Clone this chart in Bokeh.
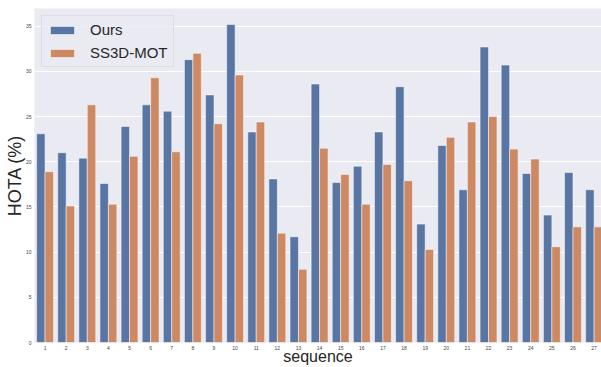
from bokeh.plotting import figure
from bokeh.models import FixedTicker, Range1d, ColumnDataSource
from bokeh.transform import dodge
from bokeh.embed import file_html
from bokeh.resources import INLINE

sequences = list(range(1, 28))
ours = [23.1, 21.0, 20.4, 17.6, 23.9, 26.3, 25.6, 31.3, 27.4, 35.2, 23.3, 18.1, 11.7, 28.6,
        17.7, 19.5, 23.3, 28.3, 13.1, 21.8, 16.9, 32.7, 30.7, 18.7, 14.1, 18.8, 16.9]
ss3d = [18.9, 15.1, 26.3, 15.3, 20.6, 29.3, 21.1, 32.0, 24.2, 29.6, 24.4, 12.1, 8.1, 21.5,
        18.6, 15.3, 19.7, 17.9, 10.3, 22.7, 24.4, 25.0, 21.4, 20.3, 10.6, 12.8, 12.8]
y_ticks = [0, 5, 10, 15, 20, 25, 30, 35]

src = ColumnDataSource(dict(seq=sequences, ours=ours, ss3d=ss3d))

FONT = "Liberation Sans"
p = figure(width=601, height=367, output_backend="svg", toolbar_location=None,
           x_range=Range1d(0.5, 27.35), y_range=Range1d(0, 36.96),
           min_border_left=34, min_border_right=0, min_border_top=8, min_border_bottom=25)

p.background_fill_color = "#eaeaf2"
p.border_fill_color = "white"
p.outline_line_color = None

p.vbar(x=dodge("seq", -0.2), top="ours", width=0.4, source=src,
       fill_color="#5975a4", line_color="white", line_alpha=0.5, line_width=1,
       legend_label="Ours")
p.vbar(x=dodge("seq", 0.2), top="ss3d", width=0.4, source=src,
       fill_color="#cc8963", line_color="white", line_alpha=0.5, line_width=1,
       legend_label="SS3D-MOT")

p.xgrid.visible = False
p.ygrid.grid_line_color = "white"
p.ygrid.grid_line_width = 1
p.ygrid.ticker = FixedTicker(ticks=y_ticks)

for ax in (p.xaxis[0], p.yaxis[0]):
    ax.axis_line_color = None
    ax.major_tick_line_color = None
    ax.minor_tick_line_color = None
    ax.major_tick_out = 0
    ax.major_tick_in = 0
    ax.major_label_text_font = FONT
    ax.major_label_text_color = "#444444"
    ax.axis_label_text_font = FONT
    ax.axis_label_text_font_style = "normal"
    ax.axis_label_text_color = "#262626"

p.xaxis.ticker = FixedTicker(ticks=sequences)
p.xaxis.major_label_text_font_size = "5px"
p.xaxis.major_label_standoff = 3
p.xaxis.axis_label_standoff = -5
p.xaxis.axis_label_text_font_size = "16px"
p.xaxis.axis_label = "sequence"

p.yaxis.ticker = FixedTicker(ticks=y_ticks)
p.yaxis.major_label_text_font_size = "5px"
p.yaxis.major_label_standoff = 3
p.yaxis.axis_label_standoff = -2
p.yaxis.axis_label_text_font_size = "18px"
p.yaxis.axis_label = "HOTA (%)"

lg = p.legend[0]
lg.location = "top_left"
lg.margin = 7
lg.padding = 5
lg.spacing = 6
lg.glyph_width = 30
lg.glyph_height = 10
lg.label_standoff = 13
lg.label_text_font = FONT
lg.label_text_font_size = "15px"
lg.label_text_color = "#262626"
lg.background_fill_color = "#eaeaf2"
lg.background_fill_alpha = 0.8
lg.border_line_color = "#cfcfd6"
lg.border_line_width = 1

open("out.html", "w").write(file_html(p, INLINE))
